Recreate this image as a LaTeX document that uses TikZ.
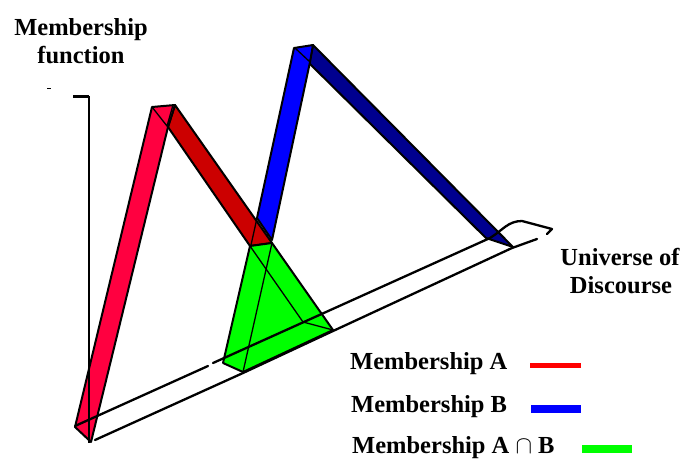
\documentclass[tikz,border=0pt]{standalone}
\usepackage{fontspec}
\setmainfont{Liberation Serif}
\usepackage{tikz}
\usetikzlibrary{positioning}
\definecolor{memA}{HTML}{FF0040}
\definecolor{memAdark}{HTML}{CC0000}
\definecolor{memB}{HTML}{0000FF}
\definecolor{memBdark}{HTML}{00008F}
\definecolor{memAB}{HTML}{00FF00}

\begin{document}
\begin{tikzpicture}[x=1pt,y=-1pt,
  font=\fontsize{24.5}{28}\selectfont\bfseries,
  bar/.style={draw=black, line width=2pt, line join=round},
  edge/.style={black, line width=1.3pt},
  rail/.style={black, line width=2.3pt, line cap=round, line join=round},
  lbl/.style={inner sep=0pt, anchor=base},
  keytxt/.style={inner sep=0pt, anchor=base west},
  key/.style={line width=8pt}]
\useasboundingbox (0,0) rectangle (684,458);

% membership A (red)
\draw[bar,fill=memAdark] (175,105) -- (272,243) -- (250,246) -- (168,127) -- cycle;
\draw[bar,fill=memA] (152,107) -- (175,105) -- (168,127) -- (91,442) -- (75,427) -- cycle;
\coordinate (capA) at (167,126);
\draw[edge] (152,107) -- (capA) -- (173,105);

% membership B (blue)
\draw[bar,fill=memBdark] (313,45) -- (513,247) -- (486,238) -- (309,63) -- cycle;
\draw[bar,fill=memB] (294,48) -- (313,45) -- (310,62) -- (272,240) -- (257,218) -- cycle;
\coordinate (capB) at (310,62);
\draw[edge] (295,48) -- (capB) -- (313,45);

% intersection (green)
\draw[bar,fill=memAB] (250,246) -- (272,243) -- (333,330) -- (243,372) -- (223,363) -- cycle;
\coordinate (back) at (303,322);
\draw[edge] (250,246) -- (back) -- (333,330);
\draw[edge] (272,243) -- (243,372);
\draw[edge] (257,218) -- (251,245);

% universe of discourse
\draw[rail] (75,426) -- (208,366);
\draw[rail] (213,363) -- (490,238) .. controls (503,230) and (508,221) .. (522,221)
  -- (552,229) -- (547,234);
\draw[rail] (95,440) -- (243,373) -- (333,331) -- (512,248) -- (537,239);

% membership axis
\draw[line width=1.6pt] (89,96) -- (89,443);
\draw[line width=3pt] (73,96) -- (89,96);
\draw[line width=0.8pt] (47,88) -- (51,88);

\node[lbl] (ttl1) at (81,35) {Membership};
\node[lbl] (ttl2) at (81,63) {function};
\node[lbl] (uni1) at (620,265) {Universe of};
\node[lbl] (uni2) at (621,293) {Discourse};

% legend
\node[keytxt] (keyA) at (350,369) {Membership A};
\node[keytxt] (keyB) at (351,412) {Membership B};
\node[keytxt] (keyAB) at (352,453) {Membership A $\cap$ B};
\draw[key,line width=5pt,red] (530,365.5) -- (581,365.5);
\draw[key,memB] (531,409) -- (581,409);
\draw[key,memAB] (582,449) -- (632,449);

\end{tikzpicture}
\end{document}
